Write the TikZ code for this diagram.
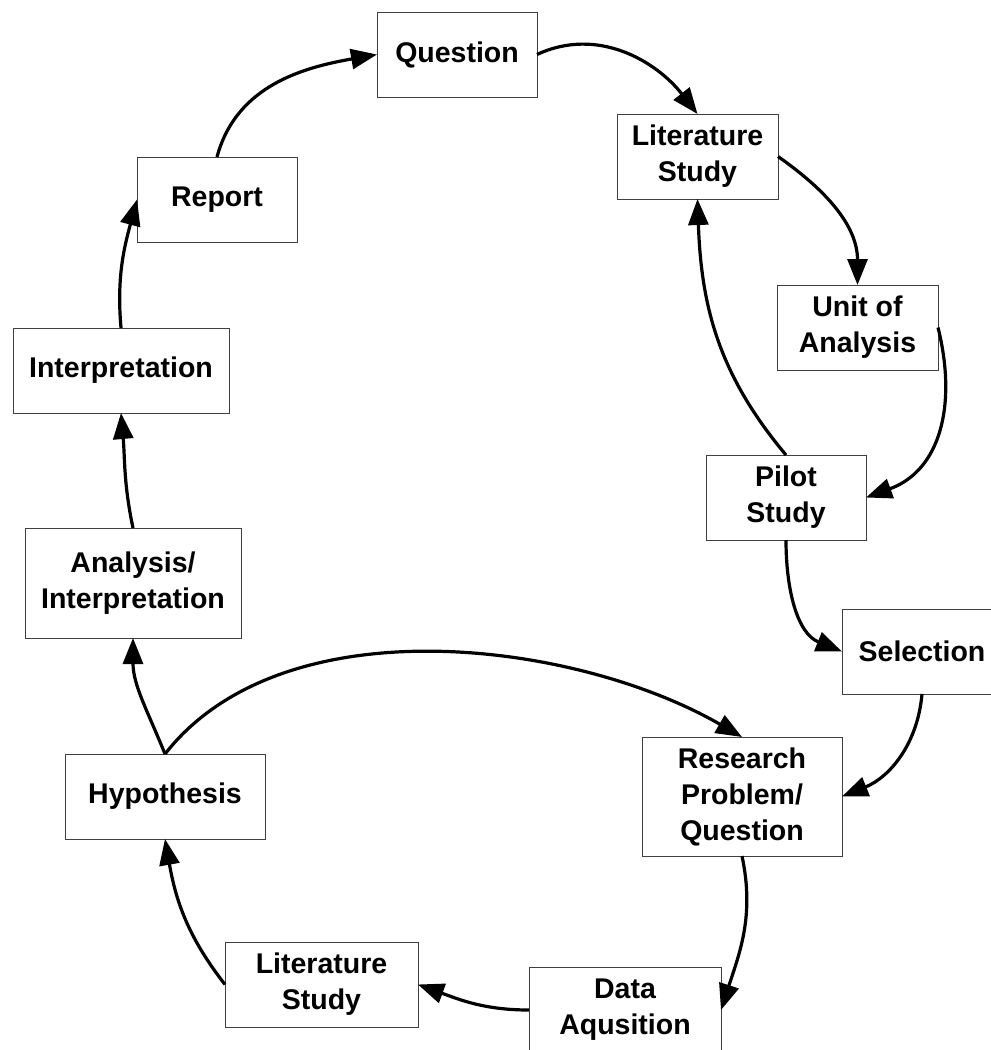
\documentclass[tikz,border=0pt]{standalone}
\usepackage{fontspec}
\setmainfont{Liberation Sans}
\usetikzlibrary{arrows.meta}
\begin{document}
\begin{tikzpicture}[x=1pt,y=-1pt,
  box/.style={draw=black!75, line width=0.9pt, fill=white, inner sep=0pt, outer sep=0pt,
    align=center, minimum height=85pt,
    font=\fontsize{28.5}{36}\selectfont\bfseries},
  conn/.style={line width=3.2pt, -{Triangle[length=26pt,width=20pt]}}]
\useasboundingbox (0,0) rectangle (991,1050);
\fill[white] (0,0) rectangle (991,1050);

% process steps
\node[box, minimum width=160pt] (q)   at (457,54.5)   {Question};
\node[box, minimum width=161pt] (ls1) at (697.5,156.5) {Literature\\Study};
\node[box, minimum width=161pt] (ua)  at (857.5,327.5) {Unit of\\Analysis};
\node[box, minimum width=160pt] (ps)  at (786,497.5)  {Pilot\\Study};
\node[box, minimum width=160pt] (sel) at (922,651.5)  {Selection};
\node[box, minimum width=200pt, minimum height=119pt] (rp) at (742,796.5) {Research\\Problem/\\Question};
\node[box, minimum width=192pt, minimum height=86pt] (da) at (625,1010) {Data\\Aqusition};
\node[box, minimum width=193pt] (ls2) at (321.5,984.5) {Literature\\Study};
\node[box, minimum width=200pt] (hyp) at (165,796.5)  {Hypothesis};
\node[box, minimum width=216pt, minimum height=110pt] (ai) at (133,583) {Analysis/\\Interpretation};
\node[box, minimum width=216pt] (int) at (121,370.5)  {Interpretation};
\node[box, minimum width=160pt] (rep) at (217,199.5)  {Report};

% connectors
\draw[conn] (rep.north) to[out=75,in=190] (q.west);
\draw[conn] (q.east) to[out=25,in=128] (ls1.north);
\draw[conn] (ls1.east) to[out=-35,in=90] (ua.north);
\draw[conn] (ua.east) to[out=-76,in=20,looseness=1.1] (ps.east);
\draw[conn] (ps.north) to[out=130,in=-88] (ls1.south);
\draw[conn] (ps.south) to[out=-90,in=158] (sel.west);
\draw[conn] (sel.south) to[out=-95,in=22] (rp.east);
\draw[conn] (rp.south) to[out=-78,in=72] (da.east);
\draw[conn] (da.west) to[out=180,in=-20] (ls2.east);
\draw[conn] (ls2.west) to[out=128,in=-80] (hyp.south);
\draw[conn] (hyp.north) to[out=112,in=-90] (ai.south);
\draw[conn] (hyp.north) to[out=52,in=150,looseness=0.85] (rp.north);
\draw[conn] (ai.north) to[out=102,in=-85] (int.south);
\draw[conn] (int.north) to[out=95,in=-105] (rep.west);
\end{tikzpicture}
\end{document}
